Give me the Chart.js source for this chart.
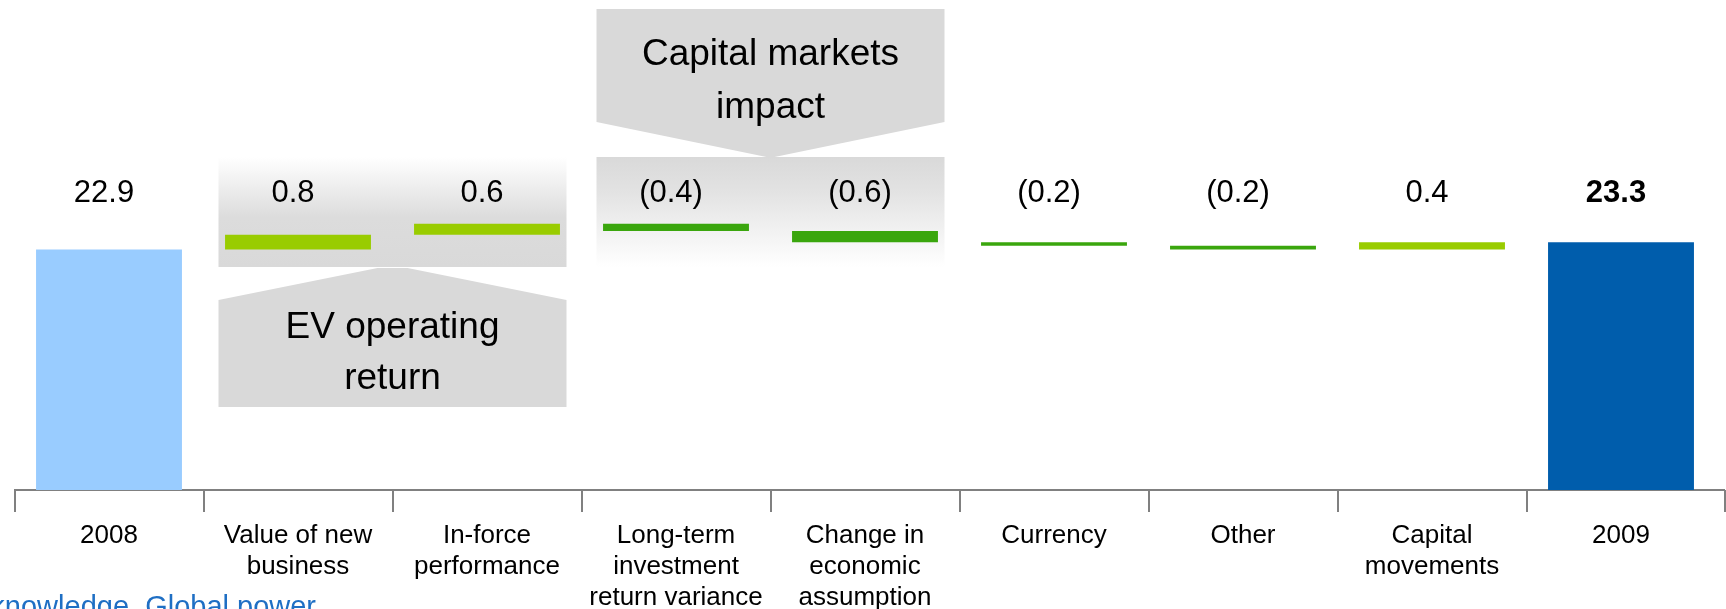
<!DOCTYPE html>
<html>
<head>
<meta charset="utf-8">
<script src="https://cdn.jsdelivr.net/npm/chart.js@4.4.1/dist/chart.umd.min.js"></script>
<style>
html,body{margin:0;padding:0;background:#ffffff;overflow:hidden}
#wrap{width:1726px;height:609px;position:relative}
</style>
</head>
<body>
<div id="wrap"><canvas id="c" width="1726" height="609"></canvas></div>
<script>
// ---- data ----
const categories = [
  ["2008"],
  ["Value of new", "business"],
  ["In-force", "performance"],
  ["Long-term", "investment", "return variance"],
  ["Change in", "economic", "assumption"],
  ["Currency"],
  ["Other"],
  ["Capital", "movements"],
  ["2009"]
];
const startValue = 22.9;
const changes = [0.8, 0.6, -0.4, -0.6, -0.2, -0.2, 0.4];
const endValue = 23.3;
const groupLabelEV = ["EV operating", "return"];
const groupLabelCM = ["Capital markets", "impact"];
const tagline = "Local knowledge. Global power";
const yMin = 9.83;
const yMax = 36.46;

// ---- styles ----
const FONT = '"Liberation Sans", Arial, Helvetica, sans-serif';
const C_START = '#99CCFF';
const C_END = '#005DAC';
const C_UP = '#99CC00';
const C_DOWN = '#3AA60D';
const C_BOX = '#D9D9D9';
const C_AXIS = '#808080';

// build floating bars from the data
const barData = [[yMin, startValue]];
const barColors = [C_START];
const rawValues = [startValue];
let run = startValue;
changes.forEach(c => {
  const a = run, b = run + c;
  barData.push([Math.min(a, b), Math.max(a, b)]);
  barColors.push(c >= 0 ? C_UP : C_DOWN);
  rawValues.push(c);
  run = b;
});
barData.push([yMin, endValue]);
barColors.push(C_END);
rawValues.push(endValue);

function fmt(v) {
  return v < 0 ? '(' + Math.abs(v).toFixed(1) + ')' : v.toFixed(1);
}

function groupBounds(chart, i0, i1) {
  const x = chart.scales.x;
  const area = chart.chartArea;
  const catW = (area.right - area.left) / categories.length;
  const inset = 15;
  const l = x.getPixelForValue(i0) - catW / 2 + inset;
  const r = x.getPixelForValue(i1) + catW / 2 - inset;
  return { l, r, c: (l + r) / 2 };
}

const shapesPlugin = {
  id: 'shapes',
  beforeDatasetsDraw(chart) {
    const ctx = chart.ctx;
    const ev = groupBounds(chart, 1, 2);
    const cm = groupBounds(chart, 3, 4);

    ctx.save();
    // EV gradient background
    let g = ctx.createLinearGradient(0, 157, 0, 267);
    g.addColorStop(0, '#FFFFFF');
    g.addColorStop(0.55, '#DCDCDC');
    g.addColorStop(1, C_BOX);
    ctx.fillStyle = g;
    ctx.fillRect(ev.l, 157, ev.r - ev.l, 110);
    // EV callout
    ctx.fillStyle = C_BOX;
    ctx.beginPath();
    ctx.moveTo(ev.l, 300);
    ctx.lineTo(ev.c - 15, 268);
    ctx.lineTo(ev.c + 15, 268);
    ctx.lineTo(ev.r, 300);
    ctx.lineTo(ev.r, 407);
    ctx.lineTo(ev.l, 407);
    ctx.closePath();
    ctx.fill();

    // Capital markets gradient background
    g = ctx.createLinearGradient(0, 157, 0, 267);
    g.addColorStop(0, C_BOX);
    g.addColorStop(0.3, '#E2E2E2');
    g.addColorStop(1, '#FFFFFF');
    ctx.fillStyle = g;
    ctx.fillRect(cm.l, 157, cm.r - cm.l, 110);
    // Capital markets callout
    ctx.fillStyle = C_BOX;
    ctx.beginPath();
    ctx.moveTo(cm.l, 9);
    ctx.lineTo(cm.r, 9);
    ctx.lineTo(cm.r, 122);
    ctx.lineTo(cm.c + 4, 157);
    ctx.lineTo(cm.c - 4, 157);
    ctx.lineTo(cm.l, 122);
    ctx.closePath();
    ctx.fill();
    ctx.restore();
  },
  afterDraw(chart) {
    const ctx = chart.ctx;
    const x = chart.scales.x;
    const area = chart.chartArea;
    ctx.save();
    // axis extension to the right edge
    ctx.strokeStyle = C_AXIS;
    ctx.lineWidth = 2;
    ctx.beginPath();
    ctx.moveTo(area.right - 1, area.bottom);
    ctx.lineTo(1725, area.bottom);
    ctx.moveTo(1725, area.bottom);
    ctx.lineTo(1725, area.bottom + 22);
    ctx.stroke();

    // value labels
    ctx.fillStyle = '#000000';
    ctx.textAlign = 'center';
    ctx.textBaseline = 'alphabetic';
    rawValues.forEach((v, i) => {
      const bold = i === rawValues.length - 1;
      ctx.font = (bold ? 'bold ' : '') + '31px ' + FONT;
      ctx.fillText(fmt(v), x.getPixelForValue(i) - 5, 202);
    });

    // group callout texts
    const ev = groupBounds(chart, 1, 2);
    const cm = groupBounds(chart, 3, 4);
    ctx.font = '37px ' + FONT;
    ctx.fillText(groupLabelEV[0], ev.c, 338);
    ctx.fillText(groupLabelEV[1], ev.c, 389);
    ctx.fillText(groupLabelCM[0], cm.c, 65);
    ctx.fillText(groupLabelCM[1], cm.c, 118);

    // tagline (cut off at the left / bottom edge)
    ctx.fillStyle = '#1F6FC4';
    ctx.font = '29px ' + FONT;
    ctx.textAlign = 'right';
    ctx.fillText(tagline, 316, 616);
    ctx.restore();
  }
};

new Chart(document.getElementById('c'), {
  type: 'bar',
  data: {
    labels: categories,
    datasets: [{
      data: barData,
      backgroundColor: barColors,
      borderWidth: 0,
      barPercentage: 0.772,
      categoryPercentage: 1.0
    }]
  },
  options: {
    responsive: false,
    animation: false,
    layout: { padding: { left: 14.5, right: 10.5, top: 0, bottom: 0 } },
    plugins: { legend: { display: false }, tooltip: { enabled: false } },
    scales: {
      x: {
        type: 'category',
        offset: true,
        grid: {
          offset: true,
          drawOnChartArea: false,
          drawTicks: true,
          tickLength: 22,
          lineWidth: 2,
          color: (c) => (c.type === 'tick' ? C_AXIS : 'rgba(0,0,0,0)')
        },
        border: { display: true, color: C_AXIS, width: 2 },
        ticks: {
          color: '#000000',
          font: { family: FONT, size: 26, lineHeight: 31 / 26 },
          padding: 8,
          maxRotation: 0,
          autoSkip: false
        },
        afterFit: (s) => { s.height = 119; }
      },
      y: { display: false, min: yMin, max: yMax }
    }
  },
  plugins: [shapesPlugin]
});
</script>
</body>
</html>
